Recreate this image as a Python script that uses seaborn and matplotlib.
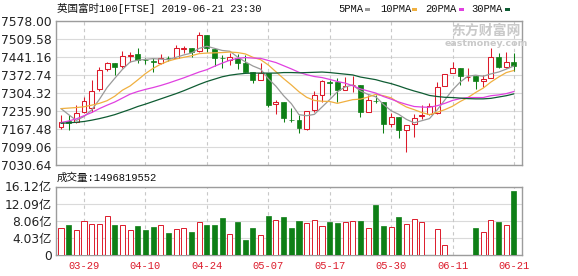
import numpy as np
import pandas as pd
import matplotlib
matplotlib.use("Agg")
import matplotlib.pyplot as plt
from matplotlib.patches import Rectangle
import seaborn as sns

# ---------------- data ----------------
dates = ["03-26", "03-27", "03-28", "03-29", "04-01", "04-02", "04-03", "04-04", "04-05", "04-08",
         "04-09", "04-10", "04-11", "04-12", "04-15", "04-16", "04-17", "04-18", "04-23", "04-24",
         "04-25", "04-26", "04-29", "04-30", "05-01", "05-02", "05-03", "05-07", "05-08", "05-09",
         "05-10", "05-13", "05-14", "05-15", "05-16", "05-17", "05-20", "05-21", "05-22", "05-23",
         "05-24", "05-28", "05-29", "05-30", "05-31", "06-03", "06-04", "06-05", "06-06", "06-07",
         "06-10", "06-11", "06-12", "06-13", "06-14", "06-17", "06-18", "06-19", "06-20", "06-21"]

open_p = [7176.4, 7196, 7195.4, 7233.4, 7246, 7319.5, 7395.5, 7417, 7407, 7443.7,
          7451, 7431, 7425, 7417, 7437.5, 7438.6, 7470, 7474, 7464, 7524.8,
          7470, 7437.5, 7429.8, 7438.6, 7417, 7382.9, 7353.7, 7379, 7261, 7268.9,
          7203, 7201.7, 7167.5, 7239.7, 7296.7, 7345, 7347.4, 7316, 7333, 7334.7,
          7233.4, 7275, 7268.9, 7185, 7214.4, 7163.7, 7185, 7218, 7223.3, 7227,
          7332, 7379, 7398, 7364, 7369, 7350, 7360, 7442.5, 7404.4, 7423.4]
close_p = [7192.8, 7190, 7229.6, 7274, 7312, 7391.7, 7417, 7404.4, 7446.2, 7448.7,
           7429.8, 7429, 7423, 7436, 7436, 7474, 7474, 7461.4, 7524.8, 7474,
           7436, 7436, 7442.5, 7417, 7385, 7353.7, 7379, 7258.7, 7271.4, 7208,
           7201, 7170, 7237, 7296.7, 7350, 7343, 7316, 7331, 7335, 7233.4,
           7277.7, 7273, 7185, 7214.4, 7163.7, 7182.7, 7210.6, 7221, 7256, 7328.4,
           7375.3, 7398, 7370, 7367, 7350, 7356, 7442.5, 7404.4, 7423.4, 7408]
high_p = [7220.7, 7221, 7258.7, 7290.4, 7353.7, 7404.4, 7423.4, 7417, 7464, 7459,
          7476.6, 7439, 7439, 7451.3, 7446, 7486.8, 7484, 7476, 7535, 7524.8,
          7474, 7449, 7455, 7451, 7448.7, 7382.9, 7417, 7379, 7277.7, 7268.9,
          7246, 7220.7, 7237, 7312, 7353.7, 7353.7, 7360, 7366.4, 7369, 7334.7,
          7296.7, 7296.7, 7268.9, 7227, 7214.4, 7182.7, 7223, 7258.7, 7265, 7347.4,
          7375.3, 7423.4, 7398, 7398, 7369, 7372.7, 7474, 7455, 7459, 7455]
low_p = [7167.5, 7164, 7189, 7227, 7233, 7312, 7388, 7372.7, 7400.6, 7423.4,
         7417, 7413, 7385, 7413, 7426, 7436, 7455, 7442.5, 7461.4, 7459,
         7408, 7400.6, 7410.8, 7395.5, 7382.9, 7341, 7353.7, 7252.4, 7223.3, 7192.8,
         7193, 7151, 7163.7, 7233.4, 7268.9, 7296.7, 7268.9, 7316, 7309, 7214.4,
         7233.4, 7265, 7151, 7176.4, 7132, 7081.3, 7138.4, 7205.5, 7220.7, 7223.3,
         7332, 7379, 7334.7, 7350, 7319.5, 7328.4, 7360, 7400.6, 7400.6, 7388]

volume = [6.43, 6.98, 5.8, 7.98, 7.2, 7.36, 9.07, 6.98, 6.98, 5.8,
          6.74, 5.8, 6.5, 7.13, 5.1, 6.2, 6.43, 5.35, 7.83, 6.98,
          6.98, 8.6, 4.88, 7.67, 3.57, 6.28, 4.65, 9.07, 8.3, 8.84,
          6.28, 7.9, 7.44, 8.3, 6.74, 7.67, 7.44, 7.67, 8.06, 8.06,
          6.43, 11.86, 6.74, 6.5, 8.84, 7.2, 8.5, 7.67, 0, 6.05,
          2.3, 0, 0, 0, 6.28, 5.35, 8.14, 7.75, 6.98, 14.97]

ma5 = [7245, 7222, 7200, 7215, 7240, 7280, 7325, 7360, 7394, 7422,
       7429, 7432, 7435, 7433, 7431, 7440, 7449, 7456, 7474, 7482,
       7474, 7466, 7463, 7441, 7423, 7407, 7395, 7359, 7330, 7294,
       7264, 7222, 7218, 7223, 7251, 7279, 7309, 7327, 7335, 7312,
       7299, 7290, 7261, 7237, 7223, 7204, 7191, 7199, 7207, 7240,
       7278, 7316, 7346, 7368, 7372, 7368, 7377, 7384, 7395, 7407]
ma10 = [7245, 7247, 7249, 7252, 7258, 7265, 7275, 7292, 7315, 7331,
        7354, 7378, 7398, 7414, 7426, 7434, 7440, 7446, 7454, 7456,
        7457, 7458, 7460, 7458, 7453, 7440, 7431, 7411, 7385, 7359,
        7335, 7309, 7288, 7276, 7273, 7272, 7265, 7272, 7279, 7281,
        7289, 7299, 7294, 7286, 7267, 7251, 7241, 7230, 7222, 7231,
        7241, 7254, 7272, 7287, 7306, 7323, 7346, 7365, 7382, 7390]
ma20 = [7192, 7198, 7206, 7218, 7230, 7245, 7258, 7270, 7285, 7300,
        7310, 7318, 7325, 7333, 7342, 7352, 7362, 7373, 7384, 7393,
        7406, 7418, 7429, 7436, 7439, 7437, 7436, 7428, 7420, 7408,
        7396, 7383, 7374, 7367, 7363, 7356, 7348, 7342, 7332, 7320,
        7312, 7304, 7291, 7281, 7270, 7261, 7253, 7251, 7250, 7256,
        7265, 7276, 7283, 7287, 7287, 7287, 7294, 7297, 7302, 7310]
ma30 = [7189, 7191, 7193, 7196, 7201, 7207, 7214, 7222, 7232, 7242,
        7253, 7262, 7272, 7282, 7292, 7302, 7313, 7325, 7337, 7348,
        7357, 7366, 7372, 7376, 7379, 7380, 7380, 7380, 7380, 7382,
        7382, 7381, 7382, 7383, 7384, 7382, 7379, 7376, 7373, 7365,
        7360, 7355, 7347, 7340, 7331, 7321, 7312, 7304, 7295, 7291,
        7288, 7287, 7285, 7283, 7282, 7282, 7284, 7289, 7294, 7301]

price_ticks = [7030.64, 7099.06, 7167.48, 7235.90, 7304.32, 7372.74, 7441.16, 7509.58, 7578.00]
vol_ticks = [0, 4.03, 8.06, 12.09, 16.12]
vol_tick_labels = ["0", "4.03亿", "8.06亿", "12.09亿", "16.12亿"]
date_tick_idx = [3, 11, 19, 27, 35, 43, 51, 59]

title = "英国富时100[FTSE] 2019-06-21 23:30"
vol_title = "成交量:1496819552"
ma_names = ["5PMA", "10PMA", "20PMA", "30PMA"]

# ---------------- style ----------------
RED = "#DC1A2A"
GREEN = "#0E7F16"
MA_COLORS = ["#9A9A9A", "#F0B040", "#E040E0", "#0F5C33"]
GRID = "#DADADA"
SPINE = "#9C9C9C"

sns.set_theme(style="white")
plt.rcParams["font.family"] = ["DejaVu Sans", "Noto Sans CJK SC"]
MONO = ["Liberation Mono", "Noto Sans CJK SC"]

W, H = 578, 276
fig = plt.figure(figsize=(W / 100, H / 100), dpi=100)
fig.patch.set_facecolor("white")

L, R = 56, 522
ax1 = fig.add_axes([L / W, 1 - 165 / H, (R - L) / W, 144 / H])
ax2 = fig.add_axes([L / W, 1 - 255 / H, (R - L) / W, 68.5 / H])

df = pd.DataFrame({"idx": np.arange(len(dates)), "date": dates, "open": open_p, "close": close_p,
                   "high": high_p, "low": low_p, "vol": volume,
                   "ma5": ma5, "ma10": ma10, "ma20": ma20, "ma30": ma30})
df["up"] = df["close"] >= df["open"]

# ---------------- price panel ----------------
BW = 0.64
for _, r in df.iterrows():
    i = r["idx"]
    if r["up"]:
        lo, hi = r["open"], r["close"]
        ax1.vlines(i, r["low"], lo, color=RED, lw=0.75, zorder=3)
        ax1.vlines(i, hi, r["high"], color=RED, lw=0.75, zorder=3)
        ax1.bar(i, max(hi - lo, 1.2), bottom=lo, width=BW, facecolor="white",
                edgecolor=RED, linewidth=0.75, zorder=4)
    else:
        lo, hi = r["close"], r["open"]
        ax1.vlines(i, r["low"], r["high"], color=GREEN, lw=0.75, zorder=3)
        ax1.bar(i, max(hi - lo, 1.2), bottom=lo, width=BW, facecolor=GREEN,
                edgecolor=GREEN, linewidth=0.5, zorder=4)

for col, c in zip(["ma5", "ma10", "ma20", "ma30"], MA_COLORS):
    sns.lineplot(data=df, x="idx", y=col, color=c, lw=0.9, ax=ax1, zorder=5)

ax1.set_xlim(-0.65, 60.05)
ax1.set_ylim(price_ticks[0], price_ticks[-1])
ax1.set_yticks(price_ticks)
ax1.set_yticklabels([f"{v:.2f}" for v in price_ticks])
ax1.set_xticks(date_tick_idx)
ax1.set_xticklabels([])
ax1.set_xlabel("")
ax1.set_ylabel("")

# ---------------- volume panel ----------------
vd = df[df["vol"] > 0]
sns.barplot(data=vd[vd["up"]], x="idx", y="vol", native_scale=True, width=0.66,
            color="white", edgecolor=RED, linewidth=0.7, saturation=1, fill=True,
            errorbar=None, ax=ax2, zorder=4)
sns.barplot(data=vd[~vd["up"]], x="idx", y="vol", native_scale=True, width=0.66,
            color=GREEN, edgecolor=GREEN, linewidth=0.5, saturation=1,
            errorbar=None, ax=ax2, zorder=4)
for p in ax2.patches:
    if p.get_edgecolor()[0] > 0.5:
        p.set_facecolor("white")
ax2.set_xlim(-0.65, 60.05)
ax2.set_ylim(vol_ticks[0], vol_ticks[-1])
ax2.set_yticks(vol_ticks)
ax2.set_yticklabels(vol_tick_labels)
ax2.set_xticks(date_tick_idx)
ax2.set_xticklabels([dates[i] for i in date_tick_idx], color=RED, fontsize=7.5, family=MONO)
ax2.set_xlabel("")
ax2.set_ylabel("")

for ax in (ax1, ax2):
    ax.set_axisbelow(True)
    ax.grid(False)
    for v in ax.get_yticks():
        ax.axhline(v, color=GRID, lw=0.8, zorder=0)
    for v in date_tick_idx:
        ax.axvline(v, color="#C8C8C8", lw=0.8, ls=(0, (3, 3)), zorder=0)
    for s in ax.spines.values():
        s.set_color(SPINE)
        s.set_linewidth(1.0)
        s.set_visible(True)
    ax.tick_params(axis="both", length=0, colors="#222222")
    ax.tick_params(axis="y", labelsize=8.8, pad=3)
ax2.tick_params(axis="x", pad=4, labelcolor=RED)

# ---------------- texts ----------------
fig.text(57 / W, 1 - 9 / H, title, family=MONO, fontsize=7.6, color="#111111", va="center", ha="left")
fig.text(57 / W, 1 - 178 / H, vol_title, family=MONO, fontsize=7.6, color="#111111", va="center", ha="left")

leg_x = [338, 380, 425, 471]
dash_x = [365, 412, 459, 505]
for name, lx, dx, c in zip(ma_names, leg_x, dash_x, MA_COLORS):
    fig.text(lx / W, 1 - 9 / H, name, family=MONO, fontsize=7.6, color="#111111", va="center", ha="left")
    fig.add_artist(Rectangle((dx / W, 1 - 11 / H), 5 / W, 3 / H, transform=fig.transFigure,
                             facecolor=c, edgecolor="none"))

# watermark
fig.text(486 / W, 1 - 31 / H, "东方财富网", family=["Noto Sans CJK SC"], fontsize=10,
         fontweight="bold", color="#C9C9C9", va="center", ha="center", zorder=1)
fig.text(486 / W, 1 - 43 / H, "eastmoney.com", fontsize=6.8, fontweight="bold",
         color="#C9C9C9", va="center", ha="center", zorder=1)

fig.savefig("out.png", dpi=100, facecolor="white")
